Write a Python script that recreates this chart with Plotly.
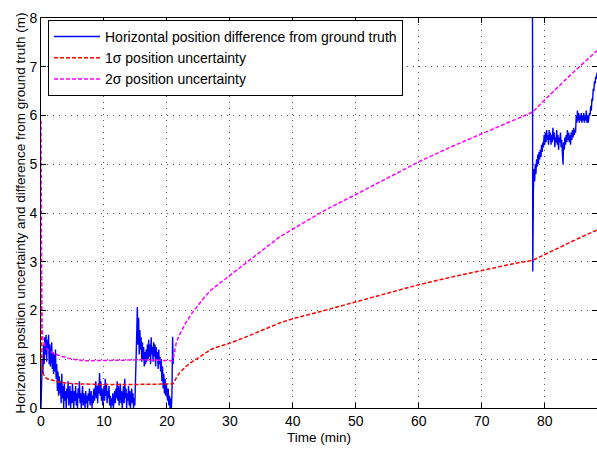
import plotly.graph_objects as go

# ---------------- data ----------------
# Horizontal position difference from ground truth (m), early segment
blue_t_early = [
    0.0, 0.1, 0.2, 0.3, 0.4, 0.5, 0.6, 0.7, 0.8, 0.9,
    1.0, 1.1, 1.2, 1.3, 1.4, 1.5, 1.6, 1.7, 1.8, 1.9,
    2.0, 2.1, 2.2, 2.3, 2.4, 2.5, 2.6, 2.7, 2.8, 2.9,
    3.0, 3.1, 3.2, 3.3, 3.4, 3.5, 3.6, 3.7, 3.8, 3.9,
    4.0, 4.1, 4.2, 4.3, 4.4, 4.5, 4.6, 4.7, 4.8, 4.9,
    5.0, 5.1, 5.2, 5.3, 5.4, 5.5, 5.6, 5.7, 5.8, 5.9,
    6.0, 6.1, 6.2, 6.3, 6.4, 6.5, 6.6, 6.7, 6.8, 6.9,
    7.0, 7.1, 7.2, 7.3, 7.4, 7.5, 7.6, 7.7, 7.8, 7.9,
    8.0, 8.1, 8.2, 8.3, 8.4, 8.5, 8.6, 8.7, 8.8, 8.9,
    9.0, 9.1, 9.2, 9.3, 9.4, 9.5, 9.6, 9.7, 9.8, 9.9,
    10.0, 10.1, 10.2, 10.3, 10.4, 10.5, 10.6, 10.7, 10.8, 10.9,
    11.0, 11.1, 11.2, 11.3, 11.4, 11.5, 11.6, 11.7, 11.8, 11.9,
    12.0, 12.1, 12.2, 12.3, 12.4, 12.5, 12.6, 12.7, 12.8, 12.9,
    13.0, 13.1, 13.2, 13.3, 13.4, 13.5, 13.6, 13.7, 13.8, 13.9,
    14.0, 14.1, 14.2, 14.3, 14.4, 14.5, 14.6, 14.7, 14.8, 14.9,
    15.0, 15.1, 15.2, 15.3, 15.4, 15.5, 15.6, 15.7, 15.8, 15.9,
    16.0, 16.1, 16.2, 16.3, 16.4, 16.5, 16.6, 16.7, 16.8, 16.9,
    17.0, 17.1, 17.2, 17.3, 17.4, 17.5, 17.6, 17.7, 17.8, 17.9,
    18.0, 18.1, 18.2, 18.3, 18.4, 18.5, 18.6, 18.7, 18.8, 18.9,
    19.0, 19.1, 19.2, 19.3, 19.4, 19.5, 19.6, 19.7, 19.8, 19.9,
    20.0, 20.1, 20.2, 20.3, 20.4, 20.5, 20.6, 20.7, 20.8, 20.9,
    21.0,
]
blue_v_early = [
    0.0, 0.65, 1.0, 0.7, 1.3, 0.9, 1.45, 1.1, 1.5, 0.95,
    1.4, 1.2, 1.5, 0.9, 1.3, 0.85, 1.2, 1.35, 0.8, 1.15,
    0.7, 1.1, 0.75, 1.2, 0.6, 0.9, 0.35, 0.75, 0.25, 0.65,
    0.3, 0.55, 0.1, 0.7, 0.2, 0.45, 0.0, 0.5, 0.15, 0.35,
    0.0, 0.4, 0.2, 0.55, 0.05, 0.3, 0.45, 0.0, 0.35, 0.1,
    0.5, 0.2, 0.0, 0.35, 0.15, 0.45, 0.05, 0.3, 0.0, 0.4,
    0.2, 0.55, 0.1, 0.3, 0.0, 0.25, 0.45, 0.05, 0.3, 0.15,
    0.0, 0.35, 0.1, 0.25, 0.0, 0.3, 0.15, 0.4, 0.05, 0.2,
    0.35, 0.0, 0.25, 0.1, 0.4, 0.15, 0.3, 0.55, 0.2, 0.45,
    0.1, 0.5, 0.3, 0.72, 0.25, 0.55, 0.15, 0.4, 0.05, 0.3,
    0.45, 0.15, 0.6, 0.25, 0.5, 0.1, 0.35, 0.2, 0.45, 0.05,
    0.25, 0.0, 0.2, 0.05, 0.3, 0.0, 0.15, 0.35, 0.1, 0.4,
    0.2, 0.55, 0.15, 0.45, 0.05, 0.3, 0.5, 0.1, 0.35, 0.0,
    0.25, 0.45, 0.1, 0.6, 0.2, 0.4, 0.0, 0.3, 0.15, 0.45,
    0.05, 0.35, 0.0, 0.25, 0.4, 0.1, 0.3, 0.0, 0.2, 0.05,
    0.4, 1.0, 1.5, 2.07, 1.3, 1.85, 1.1, 1.6, 1.2, 1.45,
    0.95, 1.35, 1.0, 1.25, 0.85, 1.15, 0.9, 1.2, 0.95, 1.3,
    1.0, 1.4, 1.05, 1.3, 0.9, 1.45, 1.1, 1.25, 0.95, 1.35,
    1.05, 1.3, 0.85, 1.25, 1.0, 1.15, 0.8, 1.2, 0.9, 1.05,
    0.75, 1.0, 0.55, 0.85, 0.4, 0.7, 0.3, 0.6, 0.25, 0.5,
    0.35, 0.15, 0.4, 0.05, 0.25, 0.0, 0.2, 0.0, 0.3, 1.46,
    0.9,
]
# Late segment (after the gap)
blue_t_late = [
    78.05, 78.1, 78.15,
    78.2, 78.3, 78.4, 78.5, 78.6, 78.7, 78.8, 78.9,
    79.0, 79.1, 79.2, 79.3, 79.4, 79.5, 79.6, 79.7, 79.8, 79.9,
    80.0, 80.1, 80.2, 80.3, 80.4, 80.5, 80.6, 80.7, 80.8, 80.9,
    81.0, 81.1, 81.2, 81.3, 81.4, 81.5, 81.6, 81.7, 81.8, 81.9,
    82.0, 82.1, 82.2, 82.3, 82.4, 82.5, 82.6, 82.7, 82.8, 82.9,
    83.0, 83.1, 83.2, 83.3, 83.4, 83.5, 83.6, 83.7, 83.8, 83.9,
    84.0, 84.1, 84.2, 84.3, 84.4, 84.5, 84.6, 84.7, 84.8, 84.9,
    85.0, 85.1, 85.2, 85.3, 85.4, 85.5, 85.6, 85.7, 85.8, 85.9,
    86.0, 86.1, 86.2, 86.3, 86.4, 86.5, 86.6, 86.7, 86.8, 86.9,
    87.0, 87.1, 87.2, 87.3, 87.4, 87.5, 87.6, 87.7, 87.8, 87.9,
    88.0, 88.1, 88.2, 88.3,
]
blue_v_late = [
    8.6, 2.8, 5.35,
    4.45, 4.9, 4.65, 5.0, 4.8, 5.1, 4.95, 5.2,
    5.0, 5.25, 5.1, 5.3, 5.15, 5.4, 5.25, 5.45, 5.35, 5.6,
    5.4, 5.65, 5.45, 5.7, 5.5, 5.6, 5.4, 5.7, 5.5, 5.65,
    5.4, 5.6, 5.45, 5.75, 5.5, 5.65, 5.35, 5.55, 5.45, 5.7,
    5.4, 5.6, 5.3, 5.55, 5.45, 5.65, 5.35, 5.5, 5.3, 5.0,
    5.45, 5.3, 5.55, 5.4, 5.6, 5.45, 5.7, 5.5, 5.65, 5.45,
    5.6, 5.4, 5.65, 5.5, 5.7, 5.55, 5.75, 5.6, 5.7, 5.65,
    6.0, 5.85, 6.1, 5.9, 6.05, 5.85, 6.0, 5.9, 6.05, 5.85,
    6.0, 5.9, 6.05, 5.85, 6.0, 5.9, 6.1, 5.85, 6.0, 5.85,
    5.95, 6.05, 6.0, 6.2, 6.1, 6.35, 6.3, 6.55, 6.5, 6.7,
    6.65, 6.8, 6.75, 6.88,
]

# 1-sigma and 2-sigma position uncertainty (m)
sigma_t = [0, 0.05, 0.15, 0.3, 0.6, 1, 2, 3, 5, 7, 10, 13, 16, 19, 20.8, 21.0,
           21.5, 22, 23, 24, 25, 26, 27, 28, 30, 32, 34, 36, 38, 40, 45, 50,
           55, 60, 65, 70, 75, 78.1, 80, 82, 84, 86, 88.3]
sigma1_v = [2.95, 1.6, 0.85, 0.72, 0.64, 0.6, 0.56, 0.53, 0.5, 0.49, 0.48, 0.48,
            0.49, 0.49, 0.49, 0.5, 0.62, 0.72, 0.85, 0.95, 1.03, 1.12, 1.2, 1.25,
            1.33, 1.43, 1.53, 1.64, 1.75, 1.83, 2.0, 2.18, 2.36, 2.53, 2.68, 2.82,
            2.96, 3.03, 3.15, 3.28, 3.4, 3.52, 3.65]
sigma2_v = [5.9, 3.2, 1.7, 1.42, 1.28, 1.2, 1.12, 1.07, 1.0, 0.97, 0.97, 0.98,
            0.99, 0.98, 0.97, 1.0, 1.35, 1.5, 1.75, 1.95, 2.12, 2.28, 2.42, 2.52,
            2.72, 2.92, 3.12, 3.33, 3.52, 3.67, 4.05, 4.38, 4.72, 5.05, 5.35, 5.63,
            5.9, 6.07, 6.32, 6.58, 6.82, 7.06, 7.33]

x_ticks = [0, 10, 20, 30, 40, 50, 60, 70, 80]
y_ticks = [0, 1, 2, 3, 4, 5, 6, 7, 8]

series_names = ["Horizontal position difference from ground truth",
                "1\u03c3 position uncertainty",
                "2\u03c3 position uncertainty"]

# ---------------- figure ----------------
FONT = "Liberation Sans, Arial, Helvetica, sans-serif"

blue_t = blue_t_early + [None] + blue_t_late
blue_v = blue_v_early + [None] + blue_v_late

fig = go.Figure()
fig.add_trace(go.Scatter(x=blue_t, y=blue_v, mode="lines", name=series_names[0],
                         line=dict(color="#0000FF", width=1.4), connectgaps=False))
fig.add_trace(go.Scatter(x=sigma_t, y=sigma1_v, mode="lines", name=series_names[1],
                         line=dict(color="#FF0000", width=1.5, dash="4px,2px")))
fig.add_trace(go.Scatter(x=sigma_t, y=sigma2_v, mode="lines", name=series_names[2],
                         line=dict(color="#FF00FF", width=1.5, dash="4px,2px")))

axis_common = dict(
    showline=True, linecolor="black", linewidth=1, mirror="ticks",
    ticks="inside", ticklen=5, tickcolor="black", tickwidth=1,
    showgrid=True, gridcolor="#555555", gridwidth=1, griddash="1px,5px",
    zeroline=False, tickfont=dict(family=FONT, size=14, color="black"),
)

fig.update_xaxes(range=[0, 88.3], tickvals=x_ticks,
                 title=dict(text="Time (min)", font=dict(family=FONT, size=13.5, color="black"),
                            standoff=4),
                 **axis_common)
fig.update_yaxes(range=[0, 8], tickvals=y_ticks,
                 title=dict(text="Horizontal position uncertainty and difference from ground truth (m)",
                            font=dict(family=FONT, size=13.5, color="black"), standoff=0),
                 **axis_common)

fig.update_layout(
    width=597, height=452,
    margin=dict(l=41, r=0, t=18, b=44, autoexpand=False),
    paper_bgcolor="white", plot_bgcolor="white",
    font=dict(family=FONT, size=14, color="black"),
    showlegend=True,
    legend=dict(x=0.0126, y=0.995, xanchor="left", yanchor="top",
                bgcolor="white", bordercolor="black", borderwidth=1,
                font=dict(family=FONT, size=14, color="black"),
                itemwidth=46, tracegroupgap=0),
)

fig.write_html("out.html", config={"displayModeBar": False},
               post_script="document.body.style.margin='0px';document.body.style.overflow='hidden';")
